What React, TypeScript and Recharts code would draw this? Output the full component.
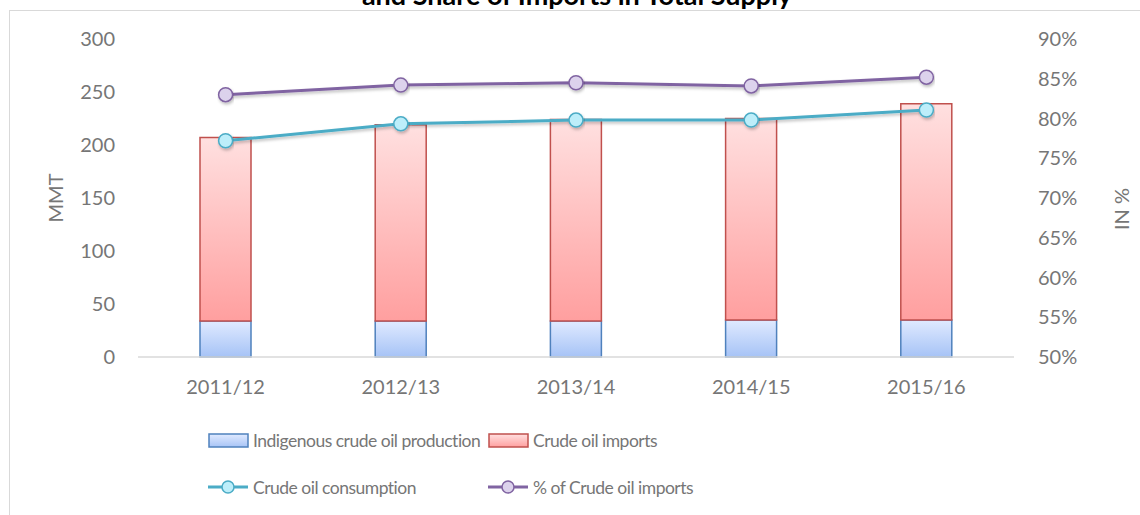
import { ComposedChart, Bar, Line, XAxis, YAxis } from 'recharts'

const years = ['2011/12', '2012/13', '2013/14', '2014/15', '2015/16']
const indigenous = [34, 34, 34, 35, 35]
const imports = [173, 185, 190, 190, 204]
const consumption = [204, 220, 223.5, 223.5, 233]
const importShare = [0.83, 0.842, 0.845, 0.841, 0.852]

const leftTicks = [0, 50, 100, 150, 200, 250, 300]
const rightTicks = [0.5, 0.55, 0.6, 0.65, 0.7, 0.75, 0.8, 0.85, 0.9]

const data = years.map((year, i) => ({
  year,
  indigenous: indigenous[i],
  imports: imports[i],
  consumption: consumption[i],
  share: importShare[i],
}))

const FONT = 'Lato, "Open Sans", sans-serif'
const TEXT = '#767676'

const legendItems = [
  { label: 'Indigenous crude oil production', kind: 'box', stroke: '#4f81bd', fill: '' },
  { label: 'Crude oil imports', kind: 'box', stroke: '#c0504d', fill: '' },
  { label: 'Crude oil consumption', kind: 'line', stroke: '#4bacc6', fill: '#bdeefa' },
  { label: '% of Crude oil imports', kind: 'line', stroke: '#8064a2', fill: '#dcd2ec' },
]

// legend drawn outside the chart so it does not eat into the plot height
function ChartLegend() {
  return (
    <div style={{ position: 'absolute', left: 208, top: 430, width: 700, height: 80, fontFamily: FONT, fontSize: 17.5, letterSpacing: -0.5, color: TEXT }}>
      {legendItems.map((it, i) => {
        const left = i % 2 === 0 ? 0 : 280
        const top = i < 2 ? 0 : 47
        return (
          <div key={it.label} style={{ position: 'absolute', left, top, height: 20, display: 'flex', alignItems: 'center', whiteSpace: 'nowrap' }}>
            <svg width={42} height={18} style={{ marginRight: 3 }}>
              <defs>
                <linearGradient id={`lg${i}`} x1="0" y1="0" x2="0" y2="1">
                  <stop offset="0%" stopColor={i === 0 ? '#e0eaff' : '#ffe0e0'} />
                  <stop offset="100%" stopColor={i === 0 ? '#a8c4f6' : '#ffa0a0'} />
                </linearGradient>
              </defs>
              {it.kind === 'box' ? (
                <rect x={1} y={3} width={39} height={13} fill={`url(#lg${i})`} stroke={it.stroke} strokeWidth={1.5} />
              ) : (
                <>
                  <line x1={0} y1={9} x2={40} y2={9} stroke={it.stroke} strokeWidth={3} />
                  <circle cx={20} cy={9} r={6} fill={it.fill} stroke={it.stroke} strokeWidth={1.5} />
                </>
              )}
            </svg>
            <span>{it.label}</span>
          </div>
        )
      })}
    </div>
  )
}

export default function App() {
  return (
    <div style={{ position: 'absolute', left: 0, top: 0, width: 1140, height: 515, overflow: 'hidden', background: '#fff' }}>
      <div style={{ position: 'absolute', left: 9, top: 10, width: 1140, height: 520, border: '1.5px solid #d9d9d9', boxSizing: 'border-box' }} />
      <div style={{ position: 'absolute', left: 0, width: 1154, top: -19, lineHeight: '27px', textAlign: 'center', fontFamily: FONT, fontWeight: 700, fontSize: 27, color: '#000', whiteSpace: 'nowrap' }}>
        and Share of Imports in Total Supply
      </div>
      <div style={{ position: 'absolute', left: 55, top: 198, transform: 'translate(-50%, -50%) rotate(-90deg)', fontFamily: FONT, fontSize: 20, color: TEXT, whiteSpace: 'nowrap' }}>
        MMT
      </div>
      <div style={{ position: 'absolute', left: 1121, top: 209, transform: 'translate(-50%, -50%) rotate(-90deg)', fontFamily: FONT, fontSize: 20, color: TEXT, whiteSpace: 'nowrap' }}>
        IN %
      </div>
      <ComposedChart
        width={1140}
        height={515}
        data={data}
        margin={{ top: 39, right: 0, bottom: 118, left: 0 }}
        style={{ position: 'absolute', left: 0, top: 0 }}
      >
        <defs>
          <linearGradient id="gBlue" x1="0" y1="0" x2="0" y2="1">
            <stop offset="0%" stopColor="#e0eaff" />
            <stop offset="100%" stopColor="#a6c3f6" />
          </linearGradient>
          <linearGradient id="gRed" x1="0" y1="0" x2="0" y2="1">
            <stop offset="0%" stopColor="#ffe0e0" />
            <stop offset="100%" stopColor="#ff9f9f" />
          </linearGradient>
          <filter id="shadow" x="-10%" y="-50%" width="120%" height="200%">
            <feDropShadow dx="1" dy="2" stdDeviation="1.5" floodColor="#000" floodOpacity="0.25" />
          </filter>
        </defs>
        <XAxis
          dataKey="year"
          height={40}
          axisLine={{ stroke: '#d9d9d9', strokeWidth: 1.5 }}
          tickLine={false}
          tickSize={0}
          tickMargin={23}
          tick={{ fontSize: 20, fill: TEXT, fontFamily: FONT }}
        />
        <YAxis
          yAxisId="left"
          width={138}
          domain={[0, 300]}
          ticks={leftTicks}
          axisLine={false}
          tickLine={false}
          tickSize={0}
          tickMargin={23}
          tick={{ fontSize: 20, fill: TEXT, fontFamily: FONT }}
        />
        <YAxis
          yAxisId="right"
          orientation="right"
          width={126}
          domain={[0.5, 0.9]}
          ticks={rightTicks}
          axisLine={false}
          tickLine={false}
          tickSize={0}
          tickMargin={24}
          tickFormatter={(v: number) => `${Math.round(v * 100)}%`}
          tick={{ fontSize: 20, fill: TEXT, fontFamily: FONT }}
        />
        <Bar
          yAxisId="left"
          dataKey="indigenous"
          stackId="s"
          barSize={51}
          fill="url(#gBlue)"
          stroke="#4f81bd"
          strokeWidth={1.5}
          isAnimationActive={false}
        />
        <Bar
          yAxisId="left"
          dataKey="imports"
          stackId="s"
          barSize={51}
          fill="url(#gRed)"
          stroke="#c0504d"
          strokeWidth={1.5}
          isAnimationActive={false}
        />
        <Line
          yAxisId="left"
          dataKey="consumption"
          stroke="#4bacc6"
          strokeWidth={3}
          dot={{ r: 7, fill: '#bdeefa', stroke: '#4bacc6', strokeWidth: 1.5 }}
          activeDot={false}
          filter="url(#shadow)"
          isAnimationActive={false}
        />
        <Line
          yAxisId="right"
          dataKey="share"
          stroke="#8064a2"
          strokeWidth={3}
          dot={{ r: 7, fill: '#dcd2ec', stroke: '#8064a2', strokeWidth: 1.5 }}
          activeDot={false}
          filter="url(#shadow)"
          isAnimationActive={false}
        />
      </ComposedChart>
      <ChartLegend />
    </div>
  )
}
